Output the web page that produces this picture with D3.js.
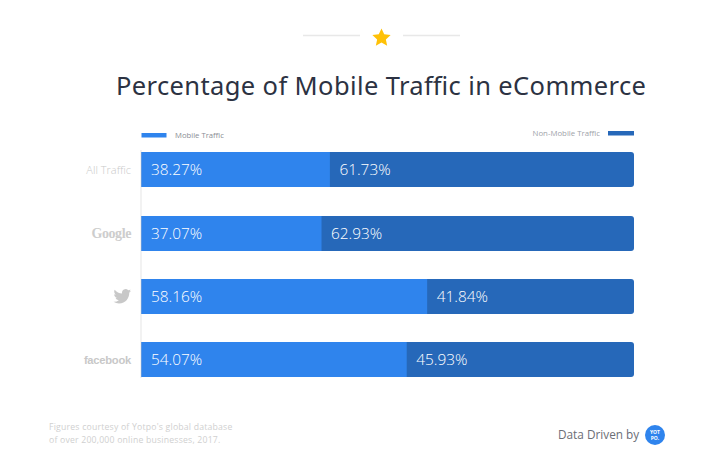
<!DOCTYPE html>
<html>
<head>
<meta charset="utf-8">
<script src="https://cdn.jsdelivr.net/npm/d3@7"></script>
<style>
  html, body { margin: 0; padding: 0; background: #fff; }
  svg { display: block; }
  text { font-family: "Open Sans", sans-serif; }
</style>
</head>
<body>
<div id="chart"></div>
<script>
const categories = ["All Traffic", "Google", "Twitter", "facebook"];
const mobile = [38.27, 37.07, 58.16, 54.07];
const nonMobile = [61.73, 62.93, 41.84, 45.93];
// the colour split in the picture does not quite follow the printed labels
const mobileDrawn = [38.25, 36.55, 58.0, 53.85];
const seriesNames = ["Mobile Traffic", "Non-Mobile Traffic"];
const colors = ["#2f84ed", "#2668b9"];

const width = 715;
const height = 470;
const twitterPath = "M23.953 4.57a10 10 0 01-2.825.775 4.958 4.958 0 002.163-2.723c-.951.555-2.005.959-3.127 1.184a4.92 4.92 0 00-8.384 4.482C7.69 8.095 4.067 6.13 1.64 3.162a4.822 4.822 0 00-.666 2.475c0 1.71.87 3.213 2.188 4.096a4.904 4.904 0 01-2.228-.616v.06a4.923 4.923 0 003.946 4.827 4.996 4.996 0 01-2.212.085 4.936 4.936 0 004.604 3.417 9.867 9.867 0 01-6.102 2.105c-.39 0-.779-.023-1.17-.067a13.995 13.995 0 007.557 2.209c9.053 0 13.998-7.496 13.998-13.985 0-.21 0-.42-.015-.63A9.935 9.935 0 0024 4.59z";

const x = d3.scaleLinear().domain([0, 100]).range([141.5, 634]);
const y = d3.scaleBand().domain(categories).range([152, 377]).paddingInner(0.4473).paddingOuter(0);

const svg = d3.select("#chart").append("svg")
  .attr("width", width)
  .attr("height", height);

// top ornament
svg.append("line").attr("x1", 303).attr("x2", 360).attr("y1", 35.5).attr("y2", 35.5)
  .attr("stroke", "#e8e8e8").attr("stroke-width", 1.5);
svg.append("line").attr("x1", 403).attr("x2", 460).attr("y1", 35.5).attr("y2", 35.5)
  .attr("stroke", "#e8e8e8").attr("stroke-width", 1.5);
const starPoints = d3.range(10).map((i) => [i * Math.PI / 5, i % 2 ? 4.6 : 9.6]);
svg.append("path")
  .attr("d", d3.lineRadial().curve(d3.curveLinearClosed)(starPoints))
  .attr("transform", "translate(381.5,38)")
  .attr("fill", "#ffc107");

svg.append("text")
  .attr("x", 116)
  .attr("y", 95)
  .attr("font-size", 25.5)
  .attr("fill", "#2c3242")
  .style("font-family", "'Noto Sans', sans-serif")
  .attr("textLength", 530)
  .text("Percentage of Mobile Traffic in eCommerce");

// legend
svg.append("rect").attr("x", 141.5).attr("y", 133).attr("width", 25).attr("height", 4.5).attr("fill", colors[0]);
svg.append("text").attr("x", 175).attr("y", 138)
  .attr("font-size", 7.7).attr("fill", "#8a8d94").text(seriesNames[0]);
svg.append("rect").attr("x", 608).attr("y", 131).attr("width", 26).attr("height", 4.5).attr("fill", colors[1]);
svg.append("text").attr("x", 600).attr("y", 136).attr("text-anchor", "end")
  .attr("font-size", 7.8).attr("fill", "#a0a3a9").text(seriesNames[1]);

// axis line
svg.append("line")
  .attr("x1", 141).attr("x2", 141)
  .attr("y1", 150).attr("y2", 378)
  .attr("stroke", "#eeeeee").attr("stroke-width", 1.5);

const rows = svg.selectAll(".row")
  .data(categories)
  .enter()
  .append("g")
  .attr("class", "row")
  .attr("transform", (d) => `translate(0,${Math.ceil(y(d))})`);

// dark bar runs the whole width, blue sits on top so no seam shows
rows.append("path")
  .attr("d", () => {
    const x0 = x(0);
    const x1 = x(100);
    const h = y.bandwidth();
    const r = 3;
    return `M${x0},0H${x1 - r}Q${x1},0 ${x1},${r}V${h - r}Q${x1},${h} ${x1 - r},${h}H${x0}Z`;
  })
  .attr("fill", colors[1]);

rows.append("rect")
  .attr("x", x(0))
  .attr("width", (d, i) => x(mobileDrawn[i]) - x(0))
  .attr("height", y.bandwidth())
  .attr("fill", colors[0]);

rows.append("text")
  .attr("x", x(0) + 9.5)
  .attr("y", y.bandwidth() / 2 + 5.5)
  .attr("font-size", 15.4)
  .attr("font-weight", 300)
  .attr("fill", "#fff")
  .text((d, i) => mobile[i].toFixed(2) + "%");

rows.append("text")
  .attr("x", (d, i) => x(mobileDrawn[i]) + 9.5)
  .attr("y", y.bandwidth() / 2 + 5.5)
  .attr("font-size", 15.4)
  .attr("font-weight", 300)
  .attr("fill", "#fff")
  .text((d, i) => nonMobile[i].toFixed(2) + "%");

// category labels, twitter is a logo
rows.filter((d) => d === "All Traffic").append("text")
  .attr("x", 131).attr("y", y.bandwidth() / 2 + 4)
  .attr("text-anchor", "end").attr("font-size", 11).attr("font-weight", 300).attr("fill", "#c9c9c9")
  .text((d) => d);
rows.filter((d) => d === "Google").append("text")
  .attr("x", 131).attr("y", y.bandwidth() / 2 + 4)
  .attr("text-anchor", "end").attr("font-size", 14).attr("font-weight", 700).attr("fill", "#cdcdcd")
  .attr("letter-spacing", -0.4)
  .style("font-family", "'Liberation Serif', serif")
  .text((d) => d);
rows.filter((d) => d === "Twitter").append("path")
  .attr("d", twitterPath)
  .attr("transform", `translate(113.5,${y.bandwidth() / 2 - 9}) scale(0.73)`)
  .attr("fill", "#c8c8c8");
rows.filter((d) => d === "facebook").append("text")
  .attr("x", 131).attr("y", y.bandwidth() / 2 + 4)
  .attr("text-anchor", "end").attr("font-size", 11.2).attr("font-weight", 700).attr("fill", "#c8c8c8")
  .attr("letter-spacing", -0.25)
  .style("font-family", "'Liberation Sans', sans-serif")
  .text((d) => d);

// footer
svg.append("text").attr("x", 49).attr("y", 430)
  .attr("font-size", 8.7).attr("fill", "#d0d0d0").attr("letter-spacing", 0.2)
  .text("Figures courtesy of Yotpo's global database");
svg.append("text").attr("x", 49).attr("y", 443)
  .attr("font-size", 8.7).attr("fill", "#d0d0d0").attr("letter-spacing", 0.2)
  .text("of over 200,000 online businesses, 2017.");

svg.append("text").attr("x", 558).attr("y", 439)
  .attr("font-size", 11.8).attr("fill", "#6b6e76")
  .text("Data Driven by");
svg.append("circle").attr("cx", 655).attr("cy", 435).attr("r", 10).attr("fill", colors[0]);
svg.append("text").attr("x", 655).attr("y", 433.5).attr("text-anchor", "middle")
  .attr("font-size", 5).attr("font-weight", 700).attr("fill", "#fff").text("YOT");
svg.append("text").attr("x", 655).attr("y", 440).attr("text-anchor", "middle")
  .attr("font-size", 5).attr("font-weight", 700).attr("fill", "#fff").text("PO.");
</script>
</body>
</html>
